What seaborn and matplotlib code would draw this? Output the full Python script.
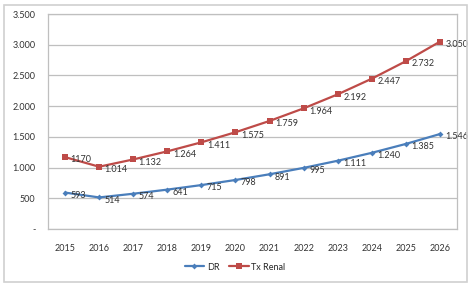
import pandas as pd
import seaborn as sns
import matplotlib.pyplot as plt
from matplotlib.patches import Rectangle
from matplotlib.ticker import FuncFormatter

years = [2015, 2016, 2017, 2018, 2019, 2020, 2021, 2022, 2023, 2024, 2025, 2026]
dr = [593, 514, 574, 641, 715, 798, 891, 995, 1111, 1240, 1385, 1546]
tx_renal = [1170, 1014, 1132, 1264, 1411, 1575, 1759, 1964, 2192, 2447, 2732, 3050]
dr_labels = ["593", "514", "574", "641", "715", "798", "891", "995",
             "1.111", "1.240", "1.385", "1.546"]
tx_labels = ["1170", "1.014", "1.132", "1.264", "1.411", "1.575", "1.759",
             "1.964", "2.192", "2.447", "2.732", "3.050"]

df = pd.DataFrame({
    "year": years * 2,
    "value": dr + tx_renal,
    "serie": ["DR"] * len(years) + ["Tx Renal"] * len(years),
})

sns.set_style("white")
plt.rcParams["font.family"] = ["Lato", "DejaVu Sans"]
fs = 6.5

fig = plt.figure(figsize=(4.72, 2.86), dpi=100)
ax = fig.add_axes([48 / 472, 1 - 229 / 286, 409 / 472, 215 / 286])

colors = {"DR": "#4A7EBB", "Tx Renal": "#BE4B48"}
sns.lineplot(data=df, x="year", y="value", hue="serie", style="serie",
             markers={"DR": "D", "Tx Renal": "s"}, dashes=False,
             palette=colors, linewidth=1.6, ax=ax, legend=True)
for line, ms in zip(ax.get_lines()[:2], [3, 5]):
    line.set_markersize(ms)
    line.set_markeredgewidth(0)

for x, y, t in zip(years, dr, dr_labels):
    ax.annotate(t, (x, y), xytext=(4, -2), textcoords="offset points",
                ha="left", va="center", fontsize=fs, color="#333333")
for x, y, t in zip(years, tx_renal, tx_labels):
    ax.annotate(t, (x, y), xytext=(4, -2), textcoords="offset points",
                ha="left", va="center", fontsize=fs, color="#333333")

ax.set_xlim(2014.5, 2026.5)
ax.set_ylim(0, 3500)
ax.set_xticks(years)
ax.set_xticklabels([str(y) for y in years])
ax.set_yticks(range(0, 3501, 500))
ax.yaxis.set_major_formatter(FuncFormatter(
    lambda v, p: "-" if v == 0 else f"{int(v):,}".replace(",", ".")))
ax.tick_params(axis="both", labelsize=fs, length=0, colors="#333333")
ax.tick_params(axis="y", pad=9)
ax.tick_params(axis="x", pad=11)
ax.grid(axis="y", color="#BFBFBF", linewidth=0.9)
for s in ax.spines.values():
    s.set_color("#BFBFBF")
    s.set_linewidth(0.9)
ax.set_xlabel("")
ax.set_ylabel("")

handles, labels = ax.get_legend_handles_labels()
leg = ax.legend(handles, labels, loc="center", bbox_to_anchor=(235 / 472, 1 - 267 / 286),
                bbox_transform=fig.transFigure, ncol=2, frameon=False, fontsize=fs,
                handlelength=2.2, columnspacing=1.0, handletextpad=0.3)
for h, ms in zip(leg.get_lines(), [3, 5]):
    h.set_markersize(ms)
    h.set_markeredgewidth(0)

fig.patches.append(Rectangle((4 / 472, 1 - 282 / 286), 463 / 472, 277 / 286,
                             transform=fig.transFigure, fill=False,
                             edgecolor="#D0D0D0", linewidth=1.2))

fig.savefig("out.png", dpi=100)
